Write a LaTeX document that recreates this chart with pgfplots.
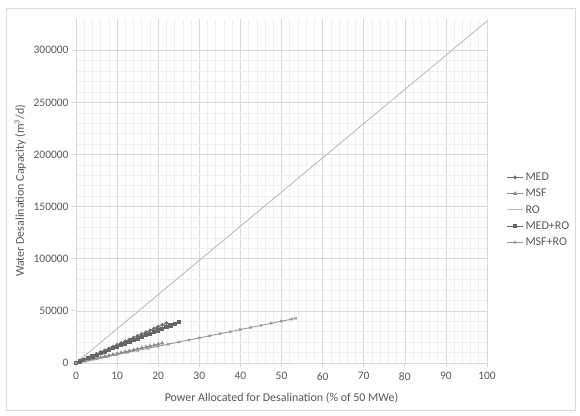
\documentclass[border=0pt]{standalone}
\usepackage{fontspec}
\setmainfont{Carlito}
\usepackage{pgfplots}
\pgfplotsset{compat=1.18}

\definecolor{txt}{HTML}{595959}
\definecolor{cMED}{HTML}{6E6E6E}
\definecolor{cMSF}{HTML}{8C8C8C}
\definecolor{cRO}{HTML}{BDBDBD}
\definecolor{cMEDRO}{HTML}{666666}
\definecolor{cMSFRO}{HTML}{9A9A9A}
\definecolor{gmaj}{HTML}{D9D9D9}
\definecolor{gmin}{HTML}{F0F0F0}

\begin{document}
\begin{tikzpicture}
\useasboundingbox (0bp,0bp) rectangle (580bp,416bp);
\fill[white] (0bp,0bp) rectangle (580bp,416bp);
\draw[gmaj, line width=0.6pt] (6bp,6bp) rectangle (575bp,408bp);
\begin{axis}[
    at={(76bp,53bp)}, anchor=south west,
    scale only axis,
    width=411bp, height=344bp,
    xmin=0, xmax=100,
    ymin=0, ymax=330000,
    xtick={0,10,...,100},
    ytick={0,50000,...,300000},
    minor x tick num=4,
    minor y tick num=4,
    grid=both,
    major grid style={gmaj, line width=0.6pt},
    minor grid style={gmin, line width=0.6pt},
    axis line style={gmaj, line width=0.8pt},
    axis x line*=bottom,
    axis y line*=left,
    tick style={gmaj, line width=0.8pt},
    major tick length=4bp,
    minor tick length=0pt,
    tick align=outside,
    scaled ticks=false,
    /pgf/number format/assume math mode=true,
    yticklabel style={/pgf/number format/fixed, /pgf/number format/1000 sep={}, font=\fontsize{11.5}{13}\selectfont, text=txt},
    xticklabel style={font=\fontsize{11.5}{13}\selectfont, text=txt, yshift=-2bp},
    xlabel={Power Allocated for Desalination (\% of 50 MWe)},
    ylabel={Water Desalination Capacity (m\textsuperscript{3}/d)},
    label style={font=\fontsize{12}{14}\selectfont, text=txt},
    xlabel style={yshift=-5bp},
    ylabel style={yshift=1bp},
    legend style={at={(1.04,0.445)}, anchor=west, draw=none, fill=none,
        font=\fontsize{12}{14}\selectfont, text=txt, row sep=3bp},
    legend cell align=left,
    legend image code/.code={\draw[mark repeat=2,mark phase=2,#1] plot coordinates {(0bp,0bp) (8bp,0bp) (16bp,0bp)};},
]
\addplot[cMED, line width=0.9pt, mark=*, mark size=1.4pt] coordinates {
(0,0) (1,1740) (2,3480) (3,5220) (4,6960) (5,8700) (6,10440) (7,12180) (8,13920) (9,15660) (10,17400) (11,19140) (12,20880) (13,22620) (14,24360) (15,26100) (16,27840) (17,29580) (18,31320) (19,33060) (20,34800) (21,36540) (22,38280)};
\addlegendentry{MED}
\addplot[cMSF, line width=0.9pt, mark=triangle*, mark size=1.5pt] coordinates {
(0,0) (1,900) (2,1800) (3,2700) (4,3600) (5,4500) (6,5400) (7,6300) (8,7200) (9,8100) (10,9000) (11,9900) (12,10800) (13,11700) (14,12600) (15,13500) (16,14400) (17,15300) (18,16200) (19,17100) (20,18000) (21,18900)};
\addlegendentry{MSF}
\addplot[cRO, line width=0.9pt, mark=none] coordinates {
(0,0) (10,32800) (20,65600) (30,98400) (40,131200) (50,164000) (60,196800) (70,229600) (80,262400) (90,295200) (100,328000)};
\addlegendentry{RO}
\addplot[cMEDRO, line width=0.9pt, mark=square*, mark size=1.6pt] coordinates {
(0,0) (1,1565) (2,3130) (3,4695) (4,6260) (5,7825) (6,9390) (7,10955) (8,12520) (9,14085) (10,15650) (11,17215) (12,18780) (13,20345) (14,21910) (15,23475) (16,25040) (17,26605) (18,28170) (19,29735) (20,31300) (21,32865) (22,34430) (23,35995) (24,37560) (25,39125)};
\addlegendentry{MED+RO}
\addplot[cMSFRO, line width=0.9pt, mark=x, mark size=1.6pt] coordinates {
(0,0) (2.5,2005) (5,4010) (7.5,6015) (10,8020) (12.5,10025) (15,12030) (17.5,14035) (20,16040) (22.5,18045) (25,20050) (27.5,22055) (30,24060) (32.5,26065) (35,28070) (37.5,30075) (40,32080) (42.5,34085) (45,36090) (47.5,38095) (50,40100) (52.5,42105) (53.5,42900)};
\addlegendentry{MSF+RO}
\end{axis}
\end{tikzpicture}
\end{document}
